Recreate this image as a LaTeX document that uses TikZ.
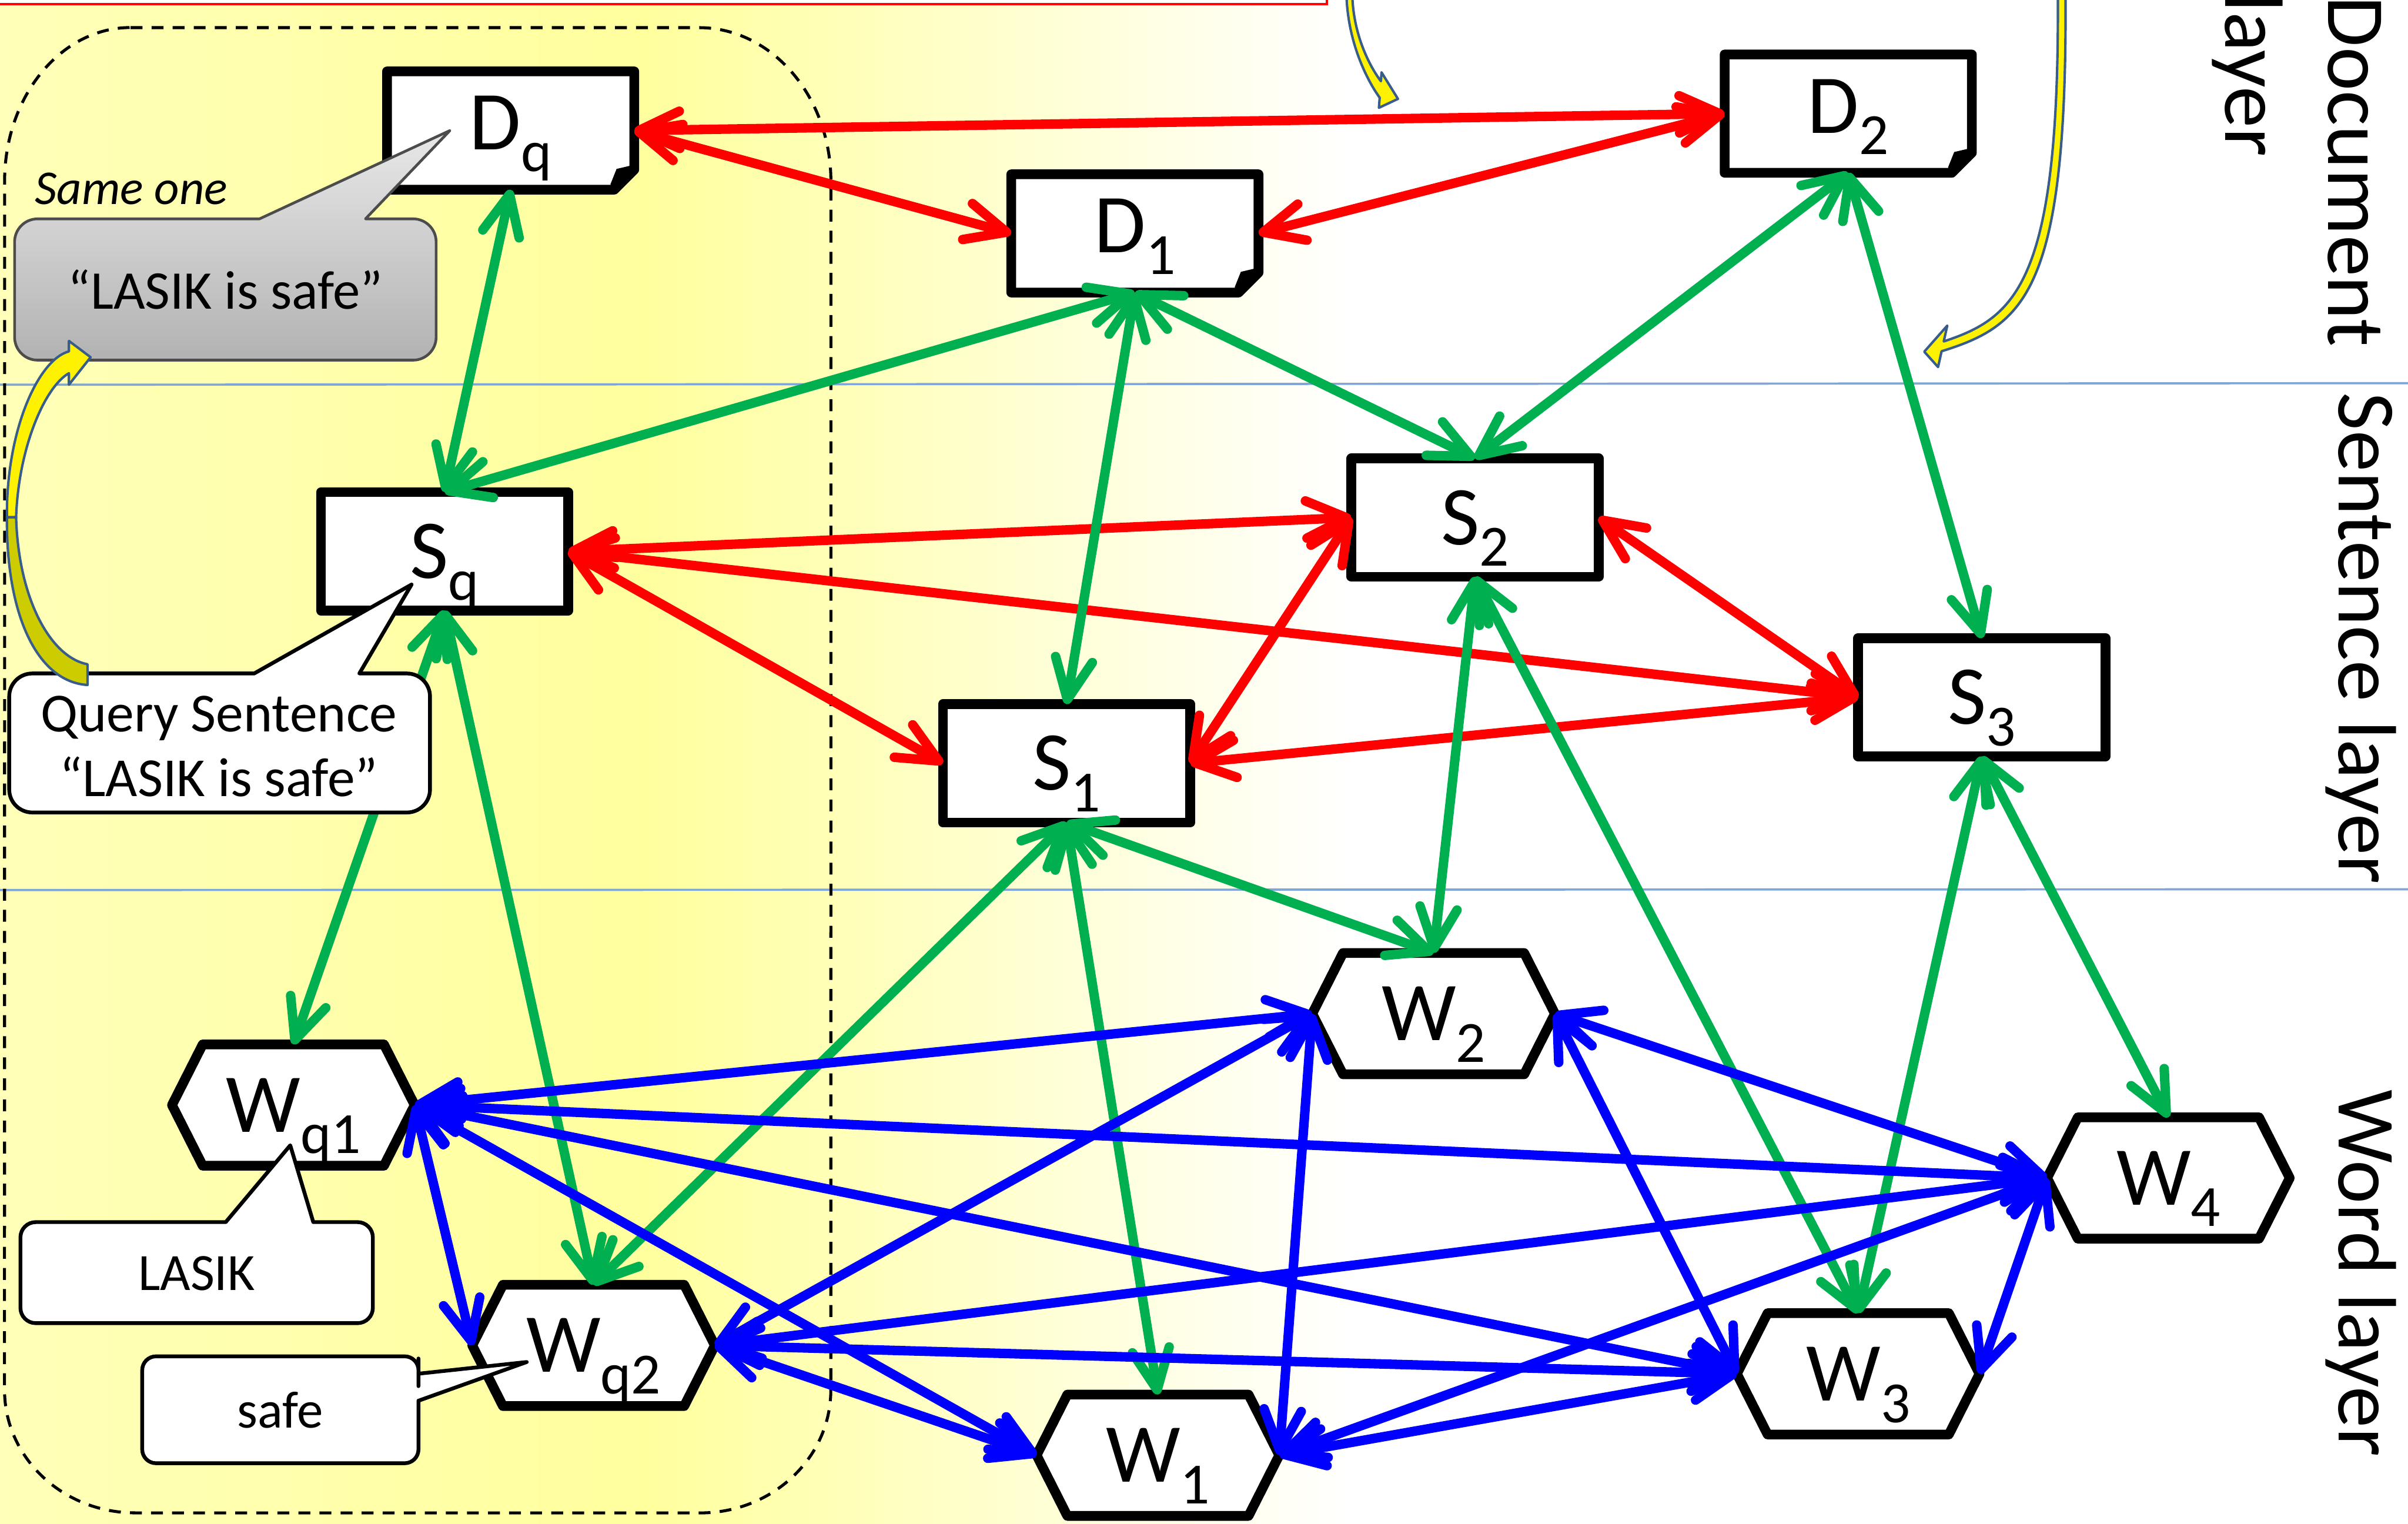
\documentclass[tikz,border=0pt]{standalone}
\usepackage{fontspec}
\setmainfont{Carlito}
\usetikzlibrary{arrows.meta}

\definecolor{pgreen}{HTML}{00B050}
\definecolor{pred}{HTML}{FF0000}
\definecolor{pblue}{HTML}{0000FF}
\definecolor{bgy}{RGB}{255,255,158}
\definecolor{bgyl}{RGB}{255,255,185}
\definecolor{arrowline}{HTML}{385D8A}
\definecolor{layerline}{HTML}{7EA6D9}
\definecolor{olivey}{RGB}{204,204,0}
\definecolor{graytop}{RGB}{232,232,232}
\definecolor{graybot}{RGB}{178,178,178}

\newcommand\mysub[1]{\smash{\raisebox{-4pt}{\fontsize{10.8}{10.8}\selectfont #1}}}

\tikzset{
  vbarb/.tip={Straight Barb[length=7.5pt,width=6.9pt,round]},
  lbl/.style={inner sep=0pt, outer sep=0pt, minimum width=1.61cm, minimum height=0.77cm, font=\fontsize{15.5}{18}\selectfont},
  rectn/.style={lbl, draw=black, fill=white, line width=1.8pt, line join=round},
  hexn/.style={lbl, minimum width=1.58cm, minimum height=0.79cm},
  docn/.style={lbl, text depth=2.8pt},
  shapeb/.style={draw=black, fill=white, line width=1.8pt, line join=round},
  conn/.style={line width=1.75pt, line cap=round, arrows={vbarb-vbarb}},
  rconn/.style={conn, draw=pred},
  gconn/.style={conn, draw=pgreen},
  bconn/.style={conn, draw=pblue},
  callw/.style={draw=black, fill=white, line width=0.7pt, line join=round},
  callg/.style={draw=black!70, line width=0.5pt, top color=graytop, bottom color=graybot, line join=round},
  yarrow/.style={draw=arrowline, line width=0.45pt, line join=round},
  layerlbl/.style={rotate=-90, anchor=base west, inner sep=0pt, font=\fontsize{15.3}{18}\selectfont},
}

\newcommand\hexnode[4]{%
  \draw[shapeb] (#2-79,#3) -- (#2-59,#3-39.5) -- (#2+59,#3-39.5) -- (#2+79,#3) -- (#2+59,#3+39.5) -- (#2-59,#3+39.5) -- cycle;
  \node[hexn] (#1) at (#2,#3) {#4};}
\newcommand\docnode[4]{%
  \draw[shapeb] (#2-80.5,#3-38.5) -- (#2+80.5,#3-38.5) -- (#2+80.5,#3+25.5) -- (#2+67.5,#3+38.5) -- (#2-80.5,#3+38.5) -- cycle;
  \fill[black] (#2+65,#3+35) -- (#2+69,#3+25) -- (#2+77.5,#3+23) -- (#2+80.5,#3+25.5) -- (#2+67.5,#3+38.5) -- cycle;
  \node[docn] (#1) at (#2,#3) {#4};}

\begin{document}
\begin{tikzpicture}[x=0.01cm,y=-0.01cm]
\useasboundingbox (0,0) rectangle (1568,992);
\clip (0,0) rectangle (1568,992);

% background
\fill[white] (0,0) rectangle (1568,992);
\shade[left color=bgyl, right color=bgy] (0,0) rectangle (420,992);
\shade[left color=bgy, right color=white] (420,0) rectangle (880,992);

% top (cut) box
\draw[pred, line width=0.45pt, fill=white] (-10,-10) rectangle (864,2.8);

% layer separators
\draw[layerline, line width=0.4pt] (0,250.5) -- (1568,249.5);
\draw[layerline, line width=0.4pt] (0,579.5) -- (1568,579);

% query region
\draw[black, line width=0.55pt, dash pattern=on 2.2pt off 1.7pt]
  (85,18) -- (455,18) arc[start angle=90, end angle=0, x radius=0.86cm, y radius=1cm]
  -- (541,905) arc[start angle=0, end angle=-90, x radius=0.85cm, y radius=0.8cm]
  -- (88,985) arc[start angle=270, end angle=180, x radius=0.85cm, y radius=0.8cm]
  -- (3,118) arc[start angle=180, end angle=90, x radius=0.82cm, y radius=1cm] -- cycle;

% layer labels
\node[layerlbl] (laydoc) at (1516,-3) {Document};
\node[layerlbl] (laydoc2) at (1449,-5) {layer};
\node[layerlbl] (laysen) at (1523,255) {Sentence layer};
\node[layerlbl] (laywrd) at (1523,709) {Word layer};

% document nodes
\docnode{Dq}{332.5}{85}{D\mysub{q}}
\docnode{D1}{739}{152}{D\mysub{1}}
\docnode{D2}{1203.5}{74}{D\mysub{2}}

% sentence nodes
\node[rectn] (Sq) at (289.5,359) {S\mysub{q}};
\node[rectn] (S1) at (694.5,497) {S\mysub{1}};
\node[rectn] (S2) at (960.5,337) {S\mysub{2}};
\node[rectn] (S3) at (1290.5,454) {S\mysub{3}};

% word nodes
\hexnode{Wq1}{191}{719.5}{W\mysub{q1}}
\hexnode{Wq2}{386.5}{876}{W\mysub{q2}}
\hexnode{W1}{754}{947.5}{W\mysub{1}}
\hexnode{W2}{933.5}{660}{W\mysub{2}}
\hexnode{W3}{1210}{894.5}{W\mysub{3}}
\hexnode{W4}{1412}{767}{W\mysub{4}}

% red connectors
\draw[rconn] (Dq.east) -- (D2.west);
\draw[rconn] (Dq.east) -- (D1.west);
\draw[rconn] (D1.east) -- (D2.west);
\draw[rconn] (Sq.east) -- (S2.west);
\draw[rconn] (Sq.east) -- (S1.west);
\draw[rconn] (Sq.east) -- (S3.west);
\draw[rconn] (S1.east) -- (S2.west);
\draw[rconn] (S1.east) -- (S3.west);
\draw[rconn] (S2.east) -- (S3.west);

% green connectors
\draw[gconn] (Dq.south) -- (Sq.north);
\draw[gconn] (D1.south) -- (Sq.north);
\draw[gconn] (D1.south) -- (S1.north);
\draw[gconn] (D1.south) -- (S2.north);
\draw[gconn] (D2.south) -- (S2.north);
\draw[gconn] (D2.south) -- (S3.north);
\draw[gconn] (Sq.south) -- (Wq1.north);
\draw[gconn] (Sq.south) -- (Wq2.north);
\draw[gconn] (S1.south) -- (Wq2.north);
\draw[gconn] (S1.south) -- (W1.north);
\draw[gconn] (S1.south) -- (W2.north);
\draw[gconn] (S2.south) -- (W2.north);
\draw[gconn] (S2.south) -- (W3.north);
\draw[gconn] (S3.south) -- (W3.north);
\draw[gconn] (S3.south) -- (W4.north);

% blue connectors
\draw[bconn] (Wq1.east) -- (W2.west);
\draw[bconn] (Wq1.east) -- (W4.west);
\draw[bconn] (Wq1.east) -- (W3.west);
\draw[bconn] (Wq1.east) -- (W1.west);
\draw[bconn] (Wq1.east) -- (Wq2.west);
\draw[bconn] (Wq2.east) -- (W2.west);
\draw[bconn] (Wq2.east) -- (W4.west);
\draw[bconn] (Wq2.east) -- (W3.west);
\draw[bconn] (Wq2.east) -- (W1.west);
\draw[bconn] (W1.east) -- (W2.west);
\draw[bconn] (W1.east) -- (W3.west);
\draw[bconn] (W1.east) -- (W4.west);
\draw[bconn] (W2.east) -- (W4.west);
\draw[bconn] (W2.east) -- (W3.west);
\draw[bconn] (W3.east) -- (W4.west);

% callouts
\node[anchor=base west, inner sep=0pt, font=\fontsize{9}{11}\selectfont\itshape] (sameone) at (22,133) {Same one};

\draw[callg] (255,142.5) [rounded corners=0.15cm] -- (284,142.5) -- (284,234.5) -- (9.5,234.5) -- (9.5,142.5) -- (120,142.5) [sharp corners] -- (169,142.5) -- (293,85) -- (238,142.5) -- cycle;
\node[font=\fontsize{10.1}{12}\selectfont, inner sep=0pt] (graytxt) at (146.8,188.5) {“LASIK is safe”};

\draw[callw] (255,438.5) [rounded corners=0.15cm] -- (280,438.5) -- (280,529) -- (6,529) -- (6,438.5) -- (120,438.5) [sharp corners] -- (165.5,438.5) -- (268,380.6) -- (234,438.5) -- cycle;
\node[font=\fontsize{10.2}{12}\selectfont, align=center, inner sep=0pt] (querytxt) at (142.5,486) {Query Sentence\\“LASIK is safe”};

\draw[callw] (225,795.7) [rounded corners=0.1cm] -- (242.8,795.7) -- (242.8,861.5) -- (13.3,861.5) -- (13.3,795.7) -- (100,795.7) [sharp corners] -- (147,795.7) -- (189,745.7) -- (204,795.7) -- cycle;
\node[font=\fontsize{9.7}{11}\selectfont, inner sep=0pt] (lasiktxt) at (128,829) {LASIK};

\draw[callw] (272.5,935) [rounded corners=0.09cm] -- (272.5,952.7) -- (92.6,952.7) -- (92.6,883.1) -- (272.5,883.1) -- (272.5,893.5) [sharp corners] -- (272.5,894.4) -- (343,886.8) -- (272.5,912) -- cycle;
\node[font=\fontsize{9.7}{11}\selectfont, inner sep=0pt] (safetxt) at (182.5,918) {safe};

% yellow curved arrows
\draw[yarrow, fill=yellow] (44.9,228.8) .. controls (25,234) and (4,280) .. (4.5,336.8) -- (10.5,336.8) .. controls (12,292) and (29,252) .. (44.9,243) -- (44.9,250.5) -- (59,232.6) -- (44.9,222.0) -- cycle;
\draw[yarrow, fill=olivey] (4.5,336.8) .. controls (4,402) and (25,444) .. (57,446) -- (57,432.5) .. controls (33,428) and (12,390) .. (10.5,336.8) -- cycle;

\draw[yarrow, fill=yellow] (876.8,-2) .. controls (878,28) and (890,52) .. (898.4,63.6) -- (897.9,70.2) -- (910.3,64.4) -- (899.6,47.1) -- (899.2,52.9) .. controls (891,42) and (881.5,22) .. (880.6,-2) -- cycle;

\draw[yarrow, fill=yellow] (1340,-2) .. controls (1341,185) and (1312,207) .. (1265.7,222.3) -- (1268,212) -- (1253,229) -- (1262,239) -- (1264.3,228.7) .. controls (1318,212) and (1346,190) .. (1345,-2) -- cycle;

\end{tikzpicture}
\end{document}
